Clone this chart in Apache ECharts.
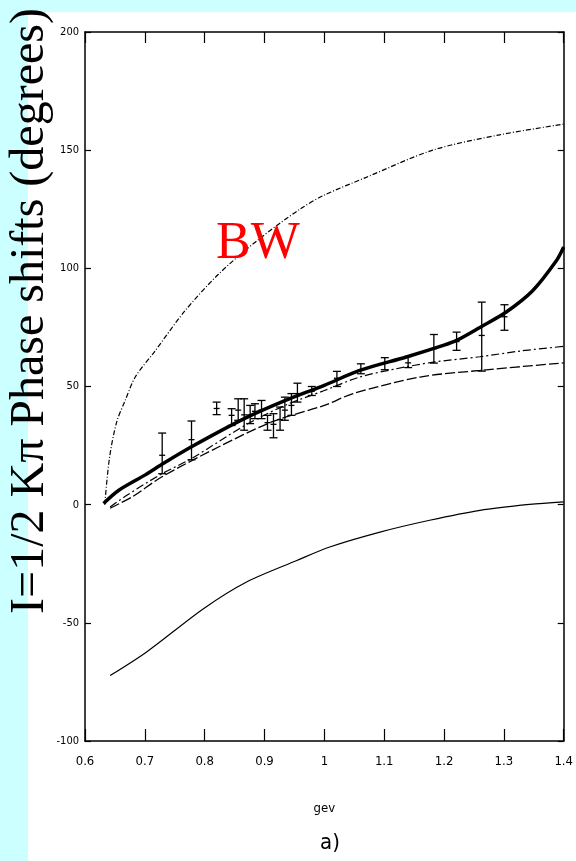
<!DOCTYPE html>
<html>
<head>
<meta charset="utf-8">
<script src="https://cdn.jsdelivr.net/npm/echarts@6/dist/echarts.min.js"></script>
<style>
  html, body { margin: 0; padding: 0; background: #ccffff; }
  #main { width: 576px; height: 861px; }
</style>
</head>
<body>
<div id="main"></div>
<script>
var chartDom = document.getElementById('main');
var myChart = echarts.init(chartDom);
var option;

// curves, [gev, degrees]
const bwCurve = [[0.633, 0], [0.641, 20], [0.653, 35], [0.667, 44], [0.684, 54], [0.717, 65], [0.767, 82],
  [0.823, 97.5], [0.889, 112], [0.959, 125], [1.0, 131], [1.07, 138.5], [1.181, 150], [1.293, 156.5], [1.4, 161]];
const fitCurve = [[0.631, 0.5], [0.656, 6], [0.7, 12.5], [0.728, 17], [0.778, 24.5], [0.867, 36.5], [0.934, 44],
  [1.0, 50.5], [1.059, 56.8], [1.137, 62.5], [1.2, 67.5], [1.221, 69.5], [1.26, 75], [1.304, 81.5],
  [1.348, 90.5], [1.388, 103.3], [1.4, 109]];
const dashDotCurve = [[0.642, -1], [0.67, 4], [0.728, 13], [0.778, 19.5], [0.867, 33.5], [0.934, 42], [1.0, 48.3],
  [1.059, 54], [1.12, 57.5], [1.182, 60.3], [1.26, 62.6], [1.327, 65], [1.4, 67]];
const dashedCurve = [[0.642, -1.5], [0.68, 3.5], [0.728, 11.7], [0.823, 24.4], [0.912, 35], [1.0, 42],
  [1.048, 47], [1.16, 54], [1.26, 56.8], [1.4, 60]];
const lowerCurve = [[0.642, -72.3], [0.703, -62.3], [0.798, -44], [0.87, -32.7], [0.954, -23.6], [1.009, -17.9],
  [1.093, -11.6], [1.176, -6.6], [1.26, -2.4], [1.343, 0.1], [1.4, 1.2]];

// data points with error bars
const pointX = [0.729, 0.778, 0.820, 0.845, 0.856, 0.866, 0.876, 0.884, 0.895, 0.905, 0.915, 0.926, 0.934,
  0.945, 0.955, 0.979, 1.021, 1.061, 1.101, 1.140, 1.183, 1.221, 1.263, 1.301];
const pointY = [20.9, 27.5, 40.7, 37.8, 40, 38, 38, 39.5, 40, 34.7, 34, 36, 40, 42, 47, 48, 53.5, 57, 59.8, 60,
  66, 69, 71.6, 79.5];
const pointLow = [13.1, 19.0, 38.1, 33.5, 35.7, 31.5, 34.3, 36.4, 36.4, 31.5, 28.3, 31.5, 35.7, 37.8, 43.4, 46.2,
  50, 55.4, 57.1, 58, 59.9, 65.3, 56.5, 73.8];
const pointHigh = [30.3, 35.4, 43.4, 40.6, 44.8, 44.8, 42, 42.7, 44.1, 37.8, 38.5, 41.3, 45.5, 47, 51.4, 50,
  56.4, 59.6, 62.2, 62.7, 72, 73, 85.7, 84.6];

const errorData = pointX.map((x, i) => [x, pointY[i], pointLow[i], pointHigh[i]]);

const labelFont = 'DejaVu Sans Condensed';

function curve(data, width, type) {
  return {
    type: 'line',
    data: data,
    smooth: 0.3,
    showSymbol: false,
    silent: true,
    lineStyle: { color: '#000', width: width, type: type }
  };
}

option = {
  backgroundColor: '#ccffff',
  animation: false,
  grid: { left: 85, right: 12, top: 32, bottom: 120 },
  xAxis: [{
    type: 'value',
    min: 0.6,
    max: 1.4,
    interval: 0.1,
    name: 'gev',
    nameLocation: 'middle',
    nameGap: 61,
    nameTextStyle: { color: '#000', fontSize: 13, fontFamily: labelFont },
    axisLine: { show: true, onZero: false, lineStyle: { color: '#000', width: 1.5 } },
    axisTick: { inside: true, length: 12, lineStyle: { color: '#000', width: 1.2 } },
    axisLabel: { color: '#000', fontSize: 13, fontFamily: labelFont, margin: 14 },
    splitLine: { show: false }
  }, {
    type: 'value',
    position: 'top',
    min: 0.6,
    max: 1.4,
    interval: 0.1,
    axisLine: { show: true, onZero: false, lineStyle: { color: '#000', width: 1.5 } },
    axisTick: { inside: true, length: 11, lineStyle: { color: '#000', width: 1.2 } },
    axisLabel: { show: false },
    splitLine: { show: false }
  }],
  yAxis: [{
    type: 'value',
    min: -100,
    max: 200,
    interval: 50,
    axisLine: { show: true, onZero: false, lineStyle: { color: '#000', width: 1.5 } },
    axisTick: { inside: true, length: 6, lineStyle: { color: '#000', width: 1.2 } },
    axisLabel: { color: '#000', fontSize: 11, fontFamily: labelFont, margin: 6 },
    splitLine: { show: false }
  }, {
    type: 'value',
    position: 'right',
    min: -100,
    max: 200,
    interval: 50,
    axisLine: { show: true, onZero: false, lineStyle: { color: '#000', width: 1.5 } },
    axisTick: { inside: true, length: 6, lineStyle: { color: '#000', width: 1.2 } },
    axisLabel: { show: false },
    splitLine: { show: false }
  }],
  series: [
    curve(bwCurve, 1.2, [5, 2, 1, 2]),
    curve(fitCurve, 3.5, 'solid'),
    curve(dashDotCurve, 1.2, [8, 3, 2, 3]),
    curve(dashedCurve, 1.3, [10, 3]),
    curve(lowerCurve, 1.2, 'solid'),
    {
      type: 'custom',
      data: errorData,
      silent: true,
      z: 5,
      renderItem: function (params, api) {
        const x = api.value(0);
        const c = api.coord([x, api.value(1)]);
        const lo = api.coord([x, api.value(2)]);
        const hi = api.coord([x, api.value(3)]);
        const cap = 4;
        const style = { stroke: '#000', lineWidth: 1.3 };
        return {
          type: 'group',
          children: [
            { type: 'line', shape: { x1: hi[0], y1: hi[1], x2: lo[0], y2: lo[1] }, style: style },
            { type: 'line', shape: { x1: hi[0] - cap, y1: hi[1], x2: hi[0] + cap, y2: hi[1] }, style: style },
            { type: 'line', shape: { x1: lo[0] - cap, y1: lo[1], x2: lo[0] + cap, y2: lo[1] }, style: style },
            { type: 'line', shape: { x1: c[0] - 3, y1: c[1], x2: c[0] + 3, y2: c[1] }, style: style }
          ]
        };
      }
    }
  ],
  graphic: {
    elements: [
      {
        type: 'rect',
        left: 28,
        top: 12,
        z: -10,
        shape: { width: 548, height: 849 },
        style: { fill: '#ffffff' }
      },
      {
        type: 'text',
        x: 30,
        y: 311,
        rotation: Math.PI / 2,
        z: 100,
        style: {
          text: 'I=1/2 K\u03c0 Phase shifts (degrees)',
          font: '48px "Liberation Serif"',
          fill: '#000',
          align: 'center',
          verticalAlign: 'middle'
        }
      },
      {
        type: 'text',
        left: 216,
        top: 218,
        z: 100,
        style: {
          text: 'BW',
          font: '52px "Liberation Serif"',
          fill: '#ff0000'
        }
      },
      {
        type: 'text',
        x: 330,
        y: 843,
        z: 100,
        style: {
          text: 'a)',
          font: '22px "DejaVu Sans Condensed"',
          fill: '#000',
          align: 'center',
          verticalAlign: 'middle'
        }
      }
    ]
  }
};

myChart.setOption(option);
</script>
</body>
</html>
